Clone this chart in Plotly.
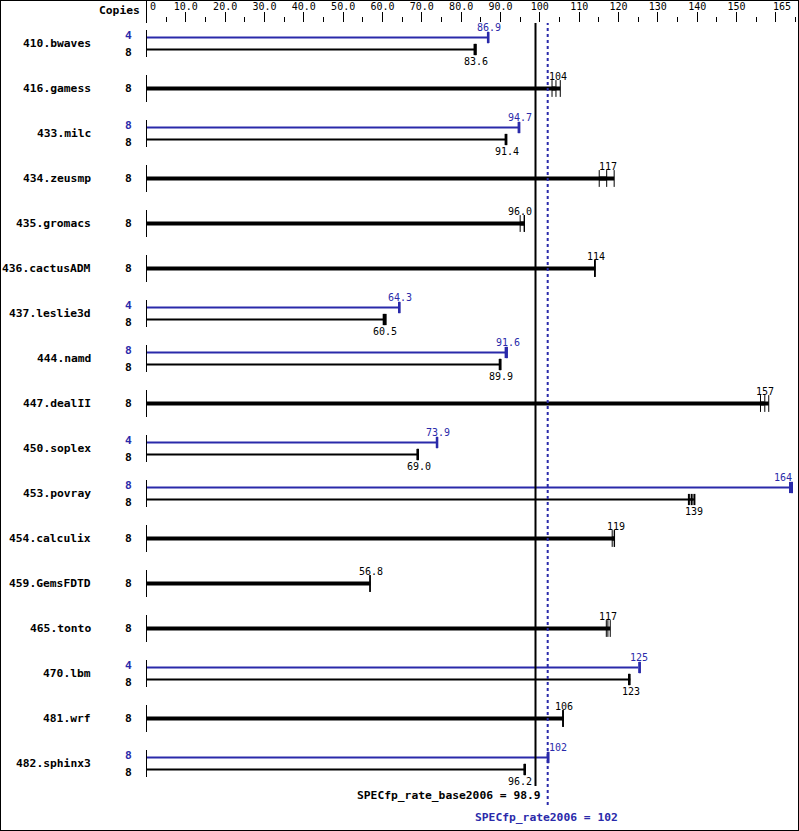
import plotly.graph_objects as go

# ---------------- data ----------------
benchmarks = ["410.bwaves", "416.gamess", "433.milc", "434.zeusmp", "435.gromacs",
              "436.cactusADM", "437.leslie3d", "444.namd", "447.dealII", "450.soplex",
              "453.povray", "454.calculix", "459.GemsFDTD", "465.tonto", "470.lbm",
              "481.wrf", "482.sphinx3"]
base_copies = [8, 8, 8, 8, 8, 8, 8, 8, 8, 8, 8, 8, 8, 8, 8, 8, 8]
peak_copies = [4, None, 8, None, None, None, 4, 8, None, 4, 8, None, None, None, 4, None, 8]
base_values = [83.6, 104, 91.4, 117, 96.0, 114, 60.5, 89.9, 157, 69.0, 139, 119, 56.8,
               117, 123, 106, 96.2]
peak_values = [86.9, None, 94.7, None, None, None, 64.3, 91.6, None, 73.9, 164, None, None,
               None, 125, None, 102]
base_runs = [[83.4, 83.6, 83.7], [103.1, 104.1, 105.2], [91.3, 91.4, 91.5],
             [115.1, 117.0, 118.9], [95.0, 96.0, 96.1], [113.9, 114.0, 114.1],
             [60.3, 60.5, 60.8], [89.8, 89.9, 90.0], [156.1, 157.2, 158.2],
             [68.9, 69.0, 69.0], [137.9, 138.6, 139.3], [118.4, 118.9, 119.0],
             [56.8, 56.8, 56.9], [116.9, 117.3, 117.9], [122.7, 122.7, 122.8],
             [105.8, 105.9, 106.0], [96.1, 96.2, 96.2]]
peak_runs = [[86.8, 86.9, 86.9], None, [94.6, 94.7, 94.8], None, None, None,
             [64.2, 64.3, 64.3], [91.3, 91.6, 91.6], None, [73.8, 73.9, 73.9],
             [163.6, 164.1, 164.1], None, None, None, [125.3, 125.4, 125.4], None,
             [102.0, 102.1, 102.2]]
tick_values = [0, 10, 20, 30, 40, 50, 60, 70, 80, 90, 100, 110, 120, 130, 140, 150, 160]
tick_labels = ["", "10.0", "20.0", "30.0", "40.0", "50.0", "60.0", "70.0", "80.0", "90.0",
               "100", "110", "120", "130", "140", "150", ""]
minor_ticks = [5, 15, 25, 35, 45, 55, 65, 75, 85, 95, 105, 115, 125, 135, 145, 155, 165]
axis_max = 165
base_metric_name = "SPECfp_rate_base2006"
base_metric = 98.9
peak_metric_name = "SPECfp_rate2006"
peak_metric = 102

# ---------------- style ----------------
BLUE = "#2a2aaa"
BLACK = "#000000"
W, H = 799, 831
TOP = 23
OFF = 6 / 45.0
MONO = "DejaVu Sans Mono"
CHAR_W = 6.0
px_per = 3.9333
x0px = 146.5
n = len(benchmarks)


def fmt(v):
    return f"{v:.0f}" if v >= 100 else f"{v:.1f}"


def label_shift(val, text):
    """Nudge a value label so that it does not sit on a metric line."""
    c = x0px + val * px_per
    half = len(text) * CHAR_W / 2
    shift = 1
    for m in (base_metric, peak_metric):
        lp = x0px + m * px_per
        if c - half < lp + 1.5 and c + half > lp - 1.5:
            if c >= lp:
                shift = (lp + 1.5) - (c - half)
            else:
                shift = (lp - 3.5) - (c + half)
    return shift


fig = go.Figure()
shapes = []
annotations = []

for i, name in enumerate(benchmarks):
    two = peak_values[i] is not None
    shapes.append(dict(type="line", xref="x", yref="y", x0=0, x1=0, y0=i - 0.3, y1=i + 0.3,
                       line=dict(color=BLACK, width=1)))
    annotations.append(dict(x=0.1165, xref="paper", y=i, yref="y", text=f"<b>{name}</b>",
                            showarrow=False, xanchor="right", yanchor="middle",
                            font=dict(family=MONO, size=11.3, color=BLACK)))
    bars = []
    if two:
        bars.append((peak_values[i], peak_runs[i], i - OFF, BLUE, peak_copies[i], "peak"))
        bars.append((base_values[i], base_runs[i], i + OFF, BLACK, base_copies[i], "base"))
    else:
        bars.append((base_values[i], base_runs[i], i, BLACK, base_copies[i], "single"))
    for val, runs, yy, col, cp, kind in bars:
        lw = 4 if kind == "single" else 2
        fig.add_trace(go.Scatter(x=[0, val], y=[yy, yy], mode="lines",
                                 line=dict(color=col, width=lw), hoverinfo="skip",
                                 showlegend=False))
        fig.add_trace(go.Scatter(x=[min(runs), max(runs)], y=[yy, yy], mode="lines",
                                 line=dict(color=col, width=lw), hoverinfo="skip",
                                 showlegend=False))
        fig.add_trace(go.Scatter(x=runs, y=[yy] * len(runs), mode="markers",
                                 marker=dict(symbol="line-ns", size=12 if kind == "single" else 8,
                                             line=dict(color=col, width=1 if kind == "single" else 2)),
                                 hoverinfo="skip", showlegend=False))
        cy_shift = 0 if kind == "single" else (2 if kind == "peak" else -3)
        annotations.append(dict(x=0.1677, xref="paper", y=yy, yref="y", text=f"<b>{cp}</b>",
                                showarrow=False, xanchor="right", yanchor="middle", yshift=cy_shift,
                                font=dict(family=MONO, size=11.3, color=col)))
        txt = fmt(val)
        ys = -11.5 if kind == "base" else (10 if kind == "peak" else 12)
        if val > 160:
            xa, xs = "right", 2
        else:
            xa, xs = "center", label_shift(val, txt)
        annotations.append(dict(x=val, xref="x", y=yy, yref="y", text=txt,
                                showarrow=False, xanchor=xa, yanchor="middle", yshift=ys,
                                xshift=xs, font=dict(family=MONO, size=10, color=col)))

# reference metric lines
shapes.append(dict(type="line", xref="x", yref="y", x0=base_metric, x1=base_metric,
                   y0=-0.48, y1=n - 0.5, line=dict(color=BLACK, width=2)))
shapes.append(dict(type="line", xref="x", yref="y", x0=peak_metric, x1=peak_metric,
                   y0=-0.48, y1=n - 0.03, line=dict(color=BLUE, width=2, dash="dot")))
annotations.append(dict(x=base_metric, xref="x", y=n - 0.3, yref="y",
                        text=f"<b>{base_metric_name} = {base_metric}</b>", showarrow=False,
                        xanchor="right", yanchor="middle", xshift=7,
                        font=dict(family=MONO, size=11.3, color=BLACK)))
annotations.append(dict(x=peak_metric, xref="x", y=n + 0.19, yref="y",
                        text=f"<b>{peak_metric_name} = {peak_metric}</b>", showarrow=False,
                        xanchor="center", yanchor="middle", xshift=-1,
                        font=dict(family=MONO, size=11.3, color=BLUE)))

# axis header items
annotations.append(dict(x=0.1775, xref="paper", y=1 + 13 / (H - TOP), yref="paper",
                        text="<b>Copies</b>", showarrow=False, xanchor="right", yanchor="middle",
                        font=dict(family=MONO, size=11.3, color=BLACK)))
annotations.append(dict(x=0, xref="x", y=1 + 16 / (H - TOP), yref="paper", text="0",
                        showarrow=False, xanchor="left", yanchor="middle", xshift=1,
                        font=dict(family=MONO, size=10, color=BLACK)))
annotations.append(dict(x=axis_max, xref="x", y=1 + 16 / (H - TOP), yref="paper",
                        text=str(axis_max), showarrow=False, xanchor="right", yanchor="middle",
                        xshift=-2, font=dict(family=MONO, size=10, color=BLACK)))
shapes.append(dict(type="line", xref="x", yref="paper", x0=0, x1=0, y0=1,
                   y1=1 + TOP / (H - TOP), line=dict(color=BLACK, width=1)))
shapes.append(dict(type="rect", xref="paper", yref="paper", x0=0, x1=1, y0=0,
                   y1=1 + TOP / (H - TOP), line=dict(color=BLACK, width=2)))

fig.update_layout(
    template="none",
    width=W, height=H,
    margin=dict(l=0, r=0, t=TOP, b=0, pad=0),
    paper_bgcolor="white", plot_bgcolor="white",
    shapes=shapes, annotations=annotations,
    showlegend=False,
    xaxis=dict(range=[-x0px / px_per, (W - x0px) / px_per], side="top", showgrid=False,
               zeroline=False, showline=False, ticks="outside", ticklen=10, tickwidth=1,
               tickcolor=BLACK, tickvals=tick_values, ticktext=tick_labels,
               tickfont=dict(family=MONO, size=10, color=BLACK), ticklabelstandoff=-2,
               minor=dict(tickvals=minor_ticks, ticks="outside", ticklen=5, tickwidth=1,
                          tickcolor=BLACK, showgrid=False),
               automargin=False, fixedrange=True),
    yaxis=dict(range=[n + 0.5, -(43.5 - TOP) / 45.0], showgrid=False, zeroline=False,
               showline=False, showticklabels=False, ticks="", automargin=False,
               fixedrange=True),
)

fig.write_html("out.html", config={"displayModeBar": False},
               post_script="document.body.style.margin='0px';document.body.style.overflow='hidden';")
